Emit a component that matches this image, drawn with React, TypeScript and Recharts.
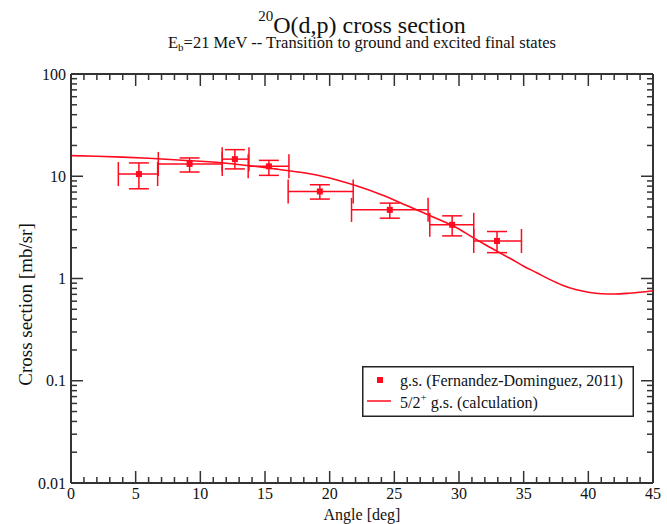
import React from 'react';
import { ComposedChart, Line, Scatter, ErrorBar, XAxis, YAxis, ZAxis, Legend } from 'recharts';

// ---- Calculation curve (5/2+ g.s.) ----
const calcAngle = [0, 2, 4, 6, 8, 10, 12, 14, 16, 18, 20, 22, 24, 26, 28, 30, 31, 32, 33, 34, 35, 36, 37, 38, 39, 40, 41, 42, 43, 44, 45];
const calcSigma = [15.9, 15.7, 15.4, 15.0, 14.5, 14.0, 13.4, 12.6, 11.7, 10.8, 9.6, 8.1, 6.6, 5.15, 4.0, 3.05, 2.55, 2.15, 1.83, 1.56, 1.32, 1.14, 0.98, 0.86, 0.78, 0.735, 0.71, 0.705, 0.715, 0.735, 0.76];

// ---- Experimental points (Fernandez-Dominguez, 2011) ----
const expAngle = [5.25, 9.17, 12.67, 15.3, 19.24, 24.65, 29.47, 32.94];
const expAngleLo = [3.66, 6.75, 11.69, 13.7, 16.79, 21.69, 27.74, 31.14];
const expAngleHi = [6.7, 11.69, 13.76, 16.85, 21.82, 27.61, 31.14, 34.83];
const expSigma = [10.5, 13.2, 14.7, 12.5, 7.1, 4.69, 3.35, 2.33];
const expSigmaLo = [7.54, 11.0, 11.8, 10.2, 5.98, 3.89, 2.61, 1.79];
const expSigmaHi = [13.5, 15.1, 18.2, 14.3, 8.26, 5.46, 4.1, 2.88];

// ---- Axes / ticks ----
const xDomain = [0, 45];
const yDomain = [0.01, 100];
const xMajorTicks = [0, 5, 10, 15, 20, 25, 30, 35, 40, 45];
const xAllTicks = Array.from({ length: 46 }, (_, i) => i);
const yMajorTicks = [0.01, 0.1, 1, 10, 100];
const yTickLabels = ['0.01', '0.1', '1', '10', '100'];
const yMinorMultipliers = [2, 3, 4, 5, 6, 7, 8, 9];
const yAllTicks: number[] = [];
yMajorTicks.forEach((d, i) => {
  yAllTicks.push(d);
  if (i < yMajorTicks.length - 1) yMinorMultipliers.forEach((m) => yAllTicks.push(+(d * m).toPrecision(3)));
});

// ---- Text ----
const titleMain = 'O(d,p) cross section';
const titleIsotope = '20';
const subtitleText = '=21 MeV -- Transition to ground and excited final states';
const xLabel = 'Angle [deg]';
const yLabel = 'Cross section [mb/sr]';
const legendExp = 'g.s. (Fernandez-Dominguez, 2011)';
const legendCalcPrefix = '5/2';
const legendCalcSuffix = ' g.s. (calculation)';

const calcData = calcAngle.map((a, i) => ({ angle: a, sigma: calcSigma[i] }));
const expData = expAngle.map((a, i) => ({
  angle: a,
  sigma: expSigma[i],
  errX: [a - expAngleLo[i], expAngleHi[i] - a],
  errY: [expSigma[i] - expSigmaLo[i], expSigmaHi[i] - expSigma[i]],
}));

// Tick-mark anchors on the four frame edges (placed through the chart scales)
const bottomTickMarks = xAllTicks.map((v) => ({ angle: v, sigma: yDomain[0], major: xMajorTicks.includes(v) }));
const topTickMarks = xAllTicks.map((v) => ({ angle: v, sigma: yDomain[1], major: xMajorTicks.includes(v) }));
const leftTickMarks = yAllTicks.map((v) => ({ angle: xDomain[0], sigma: v, major: yMajorTicks.includes(v) }));
const rightTickMarks = yAllTicks.map((v) => ({ angle: xDomain[1], sigma: v, major: yMajorTicks.includes(v) }));
const topEdge = [{ angle: xDomain[0], sigma: yDomain[1] }, { angle: xDomain[1], sigma: yDomain[1] }];
const rightEdge = [{ angle: xDomain[1], sigma: yDomain[0] }, { angle: xDomain[1], sigma: yDomain[1] }];

const RED = '#ff0a1e';
const AXIS = '#333';
const TXT = '#111';
const MAJOR_LEN = 12;
const MINOR_LEN = 6;
const CHART_W = 667;
const CHART_H = 524;

const tickLen = (p: any) => (p && p.payload && p.payload.major ? MAJOR_LEN : MINOR_LEN);
const BottomMark = (p: any) => <line x1={p.cx} x2={p.cx} y1={p.cy} y2={p.cy - tickLen(p)} stroke={AXIS} strokeWidth={1.5} />;
const TopMark = (p: any) => <line x1={p.cx} x2={p.cx} y1={p.cy} y2={p.cy + tickLen(p)} stroke={AXIS} strokeWidth={1.5} />;
const LeftMark = (p: any) => <line x1={p.cx} x2={p.cx + tickLen(p)} y1={p.cy} y2={p.cy} stroke={AXIS} strokeWidth={1.5} />;
const RightMark = (p: any) => <line x1={p.cx} x2={p.cx - tickLen(p)} y1={p.cy} y2={p.cy} stroke={AXIS} strokeWidth={1.5} />;

const XTick = (props: any) => {
  const { x, y, payload } = props;
  const v = payload.value;
  if (!xMajorTicks.includes(v)) return <g />;
  return (
    <text x={x} y={y + 16} textAnchor="middle" fontSize={16} fill={TXT}>
      {v}
    </text>
  );
};

const YTick = (props: any) => {
  const { x, y, payload } = props;
  const mi = yMajorTicks.indexOf(payload.value);
  if (mi < 0) return <g />;
  return (
    <text x={x - 5} y={y + 5.5} textAnchor="end" fontSize={16} fill={TXT}>
      {yTickLabels[mi]}
    </text>
  );
};

// Axis title under the x axis, plus chart title and subtitle centred on the plot
const XAxisTitles = (props: any) => {
  const vb = props.viewBox || { x: 71, y: 483, width: 582, height: 30 };
  const cx = vb.x + vb.width / 2;
  return (
    <g>
      <text x={cx} y={32.5} textAnchor="middle" fontSize={24} fill={TXT}>
        <tspan fontSize={15} dy={-12}>{titleIsotope}</tspan>
        <tspan dy={12}>{titleMain}</tspan>
      </text>
      <text x={cx} y={48} textAnchor="middle" fontSize={16.5} fill={TXT}>
        E<tspan fontSize={11} dy={3}>b</tspan>
        <tspan dy={-3}>{subtitleText}</tspan>
      </text>
      <text x={cx} y={vb.y + 37} textAnchor="middle" fontSize={16} fill={TXT}>
        {xLabel}
      </text>
    </g>
  );
};

const YAxisTitle = (props: any) => {
  const vb = props.viewBox || { x: 11, y: 74, width: 60, height: 409 };
  const cx = vb.x + 14;
  const cy = vb.y + vb.height / 2 + 26;
  return (
    <text x={cx} y={cy} transform={`rotate(-90 ${cx} ${cy})`} textAnchor="middle" dominantBaseline="central" fontSize={19} fill={TXT}>
      {yLabel}
    </text>
  );
};

const LegendContent = () => (
  <svg width={272} height={51} style={{ display: 'block' }}>
    <rect x={0.75} y={0.75} width={270.5} height={49.5} fill="#fff" stroke="#222" strokeWidth={1.5} />
    <rect x={15} y={11} width={6} height={6} fill={RED} />
    <text x={38} y={19.5} fontSize={16} fill={TXT}>
      {legendExp}
    </text>
    <line x1={5} x2={29} y1={35} y2={35} stroke={RED} strokeWidth={1.5} />
    <text x={38} y={41.5} fontSize={16} fill={TXT}>
      {legendCalcPrefix}
      <tspan fontSize={11} dy={-7}>+</tspan>
      <tspan dy={7}>{legendCalcSuffix}</tspan>
    </text>
  </svg>
);

export default function App() {
  return (
    <div style={{ position: 'absolute', left: 0, top: 0, width: CHART_W, height: CHART_H, background: '#fff' }}>
      <ComposedChart width={CHART_W} height={CHART_H} margin={{ top: 74, right: 14, bottom: 11, left: 11 }}>
        <XAxis
          xAxisId="b"
          dataKey="angle"
          type="number"
          domain={xDomain}
          ticks={xAllTicks}
          interval={0}
          height={30}
          tickSize={0}
          tickMargin={0}
          tickLine={false}
          axisLine={{ stroke: AXIS, strokeWidth: 2 }}
          tick={XTick}
          label={XAxisTitles}
        />
        <YAxis
          yAxisId="l"
          dataKey="sigma"
          type="number"
          scale="log"
          domain={yDomain}
          ticks={yAllTicks}
          interval={0}
          width={60}
          tickSize={0}
          tickMargin={0}
          tickLine={false}
          axisLine={{ stroke: AXIS, strokeWidth: 2 }}
          tick={YTick}
          label={YAxisTitle}
        />
        <ZAxis range={[36, 36]} />

        {/* Frame: top and right edges */}
        <Line xAxisId="b" yAxisId="l" data={topEdge} dataKey="sigma" type="linear" stroke={AXIS} strokeWidth={2} dot={false} activeDot={false} legendType="none" isAnimationActive={false} />
        <Line xAxisId="b" yAxisId="l" data={rightEdge} dataKey="sigma" type="linear" stroke={AXIS} strokeWidth={2} dot={false} activeDot={false} legendType="none" isAnimationActive={false} />

        {/* Inward tick marks on all four edges */}
        <Scatter xAxisId="b" yAxisId="l" data={bottomTickMarks} shape={BottomMark} legendType="none" isAnimationActive={false} />
        <Scatter xAxisId="b" yAxisId="l" data={topTickMarks} shape={TopMark} legendType="none" isAnimationActive={false} />
        <Scatter xAxisId="b" yAxisId="l" data={leftTickMarks} shape={LeftMark} legendType="none" isAnimationActive={false} />
        <Scatter xAxisId="b" yAxisId="l" data={rightTickMarks} shape={RightMark} legendType="none" isAnimationActive={false} />

        <Line xAxisId="b" yAxisId="l" data={calcData} dataKey="sigma" type="monotone" stroke={RED} strokeWidth={1.6} dot={false} activeDot={false} isAnimationActive={false} />
        <Scatter xAxisId="b" yAxisId="l" data={expData} fill={RED} shape="square" isAnimationActive={false}>
          <ErrorBar dataKey="errY" direction="y" stroke={RED} strokeWidth={1.5} width={10} isAnimationActive={false} />
          <ErrorBar dataKey="errX" direction="x" stroke={RED} strokeWidth={1.5} width={12} isAnimationActive={false} />
        </Scatter>
        <Legend
          layout="horizontal"
          verticalAlign="middle"
          align="center"
          wrapperStyle={{ left: 362, top: 366, width: 272, height: 51 }}
          content={LegendContent}
        />
      </ComposedChart>
    </div>
  );
}
